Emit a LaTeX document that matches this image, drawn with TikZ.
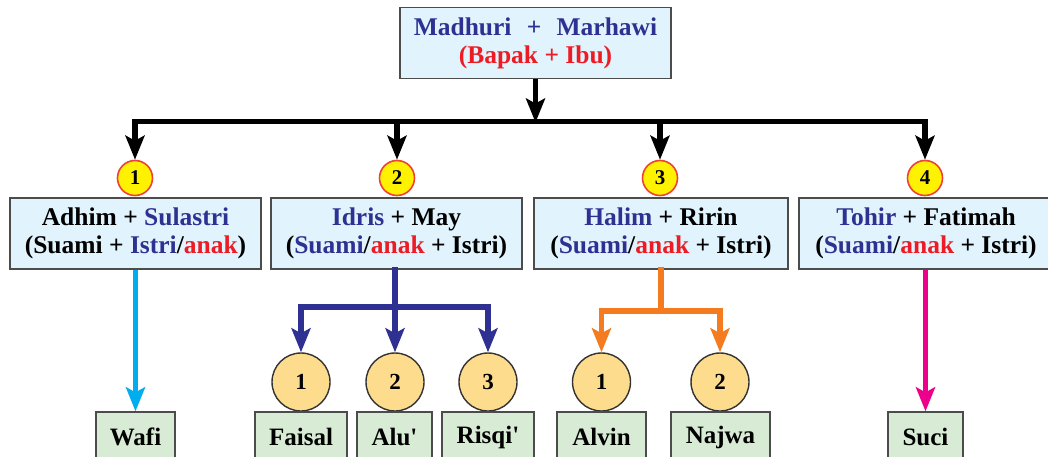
\documentclass[tikz,border=0pt]{standalone}
\usepackage{fontspec}
\setmainfont{Liberation Serif}
\usetikzlibrary{arrows.meta}
\definecolor{navy}{HTML}{2E3192}
\definecolor{redtxt}{HTML}{ED1C24}
\definecolor{boxblue}{HTML}{E1F3FC}
\definecolor{boxgreen}{HTML}{D8EBD4}
\definecolor{numyellow}{HTML}{FFF200}
\definecolor{numred}{HTML}{EF4136}
\definecolor{kidorange}{HTML}{FDDC8E}
\definecolor{cyanline}{HTML}{00AEEF}
\definecolor{orangeline}{HTML}{F47B20}
\definecolor{magentaline}{HTML}{EC008C}
\newcommand{\nv}[1]{\textcolor{navy}{#1}}
\newcommand{\rd}[1]{\textcolor{redtxt}{#1}}

\begin{document}
\begin{tikzpicture}[x=1pt,y=-1pt,
    pasangan/.style={draw=black!70,line width=1.3pt,fill=boxblue,inner sep=0pt,minimum height=71pt,align=center,font=\fontsize{25.5}{28}\selectfont\bfseries},
    nomor/.style={circle,draw=numred,line width=1.6pt,fill=numyellow,inner sep=0pt,minimum size=35pt,font=\fontsize{21}{21}\selectfont\bfseries},
    nomoranak/.style={circle,draw=black!80,line width=1.4pt,fill=kidorange,inner sep=0pt,minimum size=58pt,font=\fontsize{23}{23}\selectfont\bfseries},
    anak/.style={draw=black!70,line width=1.3pt,fill=boxgreen,inner sep=0pt,minimum height=50pt,font=\fontsize{25}{25}\selectfont\bfseries},
    garis/.style={line width=5.5pt,line cap=rect},
    panah/.style={line width=5.5pt,-{Stealth[length=24pt,width=19pt,inset=5pt]}}]
    \useasboundingbox[fill=white] (0,0) rectangle (1048,457);
    \node[pasangan,minimum width=271pt] (ortu) at (535.5,43) {\nv{Madhuri\hspace{0.6em}+\hspace{0.6em}Marhawi}\\\rd{(Bapak + Ibu)}};
    \node[pasangan,minimum width=251pt] (k1) at (135.5,233.5) {Adhim + \nv{Sulastri}\\(Suami + \nv{Istri}/\rd{anak})};
    \node[pasangan,minimum width=251pt] (k2) at (396.5,233.5) {\nv{Idris} + May\\(\nv{Suami}/\rd{anak} + Istri)};
    \node[pasangan,minimum width=254pt] (k3) at (661,233.5) {\nv{Halim} + Ririn\\(\nv{Suami}/\rd{anak} + Istri)};
    \node[pasangan,minimum width=254pt] (k4) at (926,233.5) {\nv{Tohir} + Fatimah\\(\nv{Suami}/\rd{anak} + Istri)};
    \node[nomor] (c1) at (135,178) {1};
    \node[nomor] (c2) at (397,178) {2};
    \node[nomor] (c3) at (660,178) {3};
    \node[nomor] (c4) at (925,178) {4};
    \coordinate (bar) at (0,121.5);
    \draw[panah,shorten >=-1pt] (ortu.south) -- (ortu.south |- bar);
    \draw[garis] (c1 |- bar) -- (c4 |- bar);
    \draw[panah] (c1 |- bar) -- (c1.north);
    \draw[panah] (c2 |- bar) -- (c2.north);
    \draw[panah] (c3 |- bar) -- (c3.north);
    \draw[panah] (c4 |- bar) -- (c4.north);
    \node[nomoranak] (f1) at (301,382) {1};
    \node[nomoranak] (f2) at (395,382) {2};
    \node[nomoranak] (f3) at (488,382) {3};
    \node[nomoranak] (g1) at (601.5,382) {1};
    \node[nomoranak] (g2) at (720,382) {2};
    \node[anak,minimum width=79pt] (wafi) at (135.5,437) {Wafi};
    \node[anak,minimum width=92pt] (faisal) at (301,437) {Faisal};
    \node[anak,minimum width=75pt] (alu) at (394.5,437) {Alu\textquotesingle};
    \node[anak,minimum width=92pt] (risqi) at (488,437) {Risqi\textquotesingle};
    \node[anak,minimum width=89pt] (alvin) at (601.5,437) {Alvin};
    \node[anak,minimum width=99pt] (najwa) at (720.5,437) {Najwa};
    \node[anak,minimum width=75pt] (suci) at (925.5,437) {Suci};
    \coordinate (nvbar) at (0,307);
    \coordinate (orbar) at (0,311);
    \draw[panah,cyanline] (wafi |- k1.south) -- (wafi.north);
    \draw[garis,navy] (f2 |- k2.south) -- (f2 |- nvbar);
    \draw[garis,navy] (f1 |- nvbar) -- (f3 |- nvbar);
    \draw[panah,navy] (f1 |- nvbar) -- (f1.north);
    \draw[panah,navy] (f2 |- nvbar) -- (f2.north);
    \draw[panah,navy] (f3 |- nvbar) -- (f3.north);
    \draw[garis,orangeline] (k3.south) -- (k3.south |- orbar);
    \draw[garis,orangeline] (g1 |- orbar) -- (g2 |- orbar);
    \draw[panah,orangeline] (g1 |- orbar) -- (g1.north);
    \draw[panah,orangeline] (g2 |- orbar) -- (g2.north);
    \draw[panah,magentaline] (suci |- k4.south) -- (suci.north);
\end{tikzpicture}
\end{document}
